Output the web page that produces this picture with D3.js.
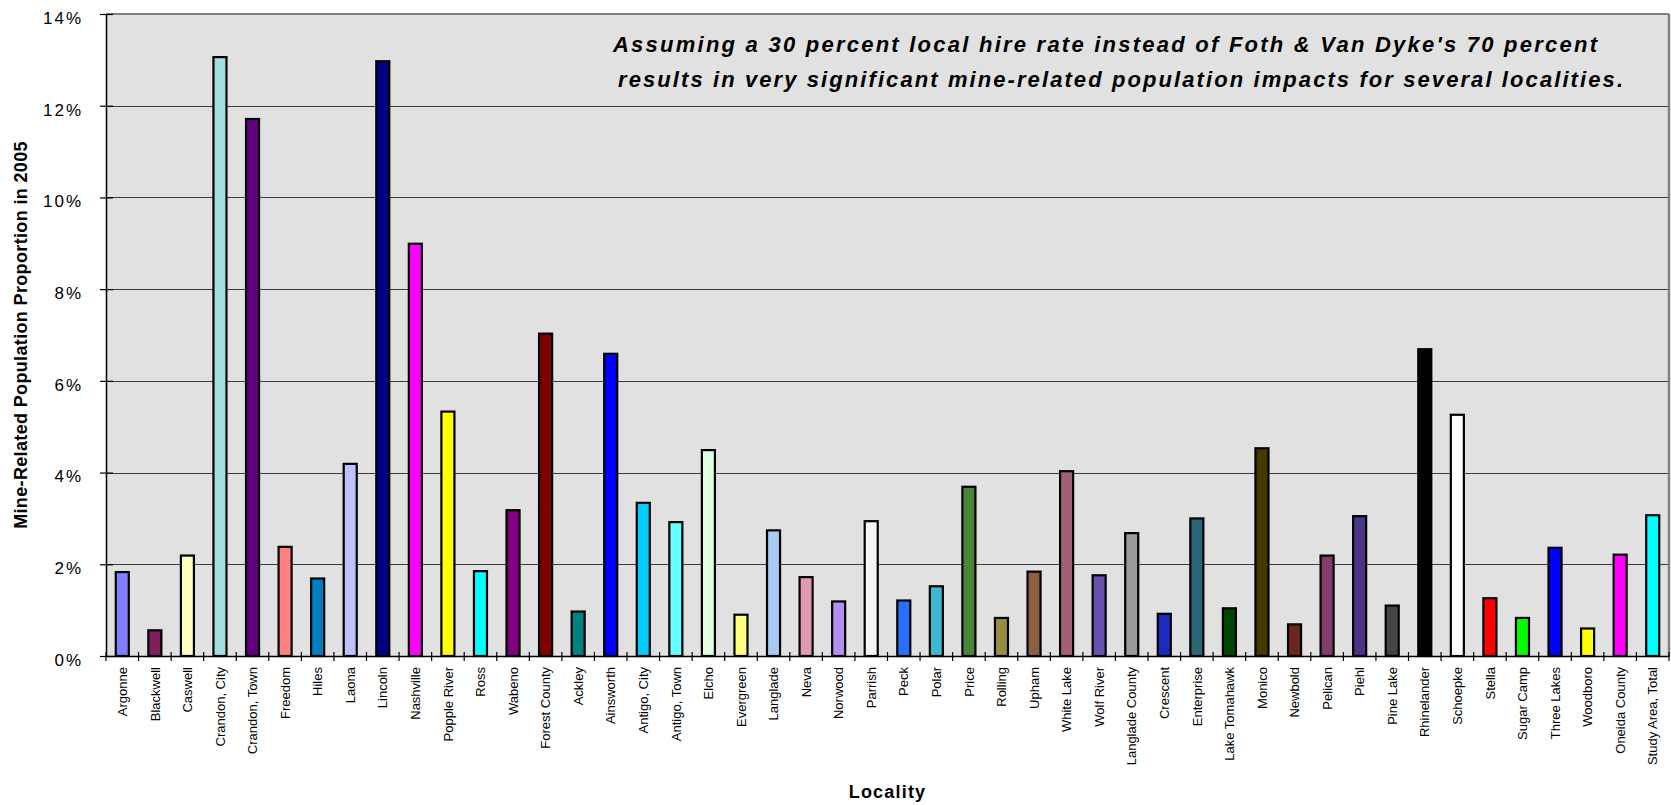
<!DOCTYPE html>
<html>
<head>
<meta charset="utf-8">
<script src="https://cdn.jsdelivr.net/npm/d3@7/dist/d3.min.js"></script>
<style>
  html, body { margin: 0; padding: 0; background: #ffffff; }
  svg { display: block; }
  text { font-family: "Liberation Sans", Arial, Helvetica, sans-serif; }
</style>
</head>
<body>
<svg id="chart" width="1671" height="805"></svg>
<script>
// ---------- data ----------
const categories = [
  "Argonne", "Blackwell", "Caswell", "Crandon, City", "Crandon, Town", "Freedom", "Hiles", "Laona",
  "Lincoln", "Nashville", "Popple River", "Ross", "Wabeno", "Forest County", "Ackley", "Ainsworth",
  "Antigo, City", "Antigo, Town", "Elcho", "Evergreen", "Langlade", "Neva", "Norwood", "Parrish",
  "Peck", "Polar", "Price", "Rolling", "Upham", "White Lake", "Wolf River", "Langlade County",
  "Crescent", "Enterprise", "Lake Tomahawk", "Monico", "Newbold", "Pelican", "Piehl", "Pine Lake",
  "Rhinelander", "Schoepke", "Stella", "Sugar Camp", "Three Lakes", "Woodboro", "Oneida County",
  "Study Area, Total"
];

// Mine-related population proportion in 2005 (percent)
const values = [
  1.83, 0.56, 2.19, 13.06, 11.71, 2.38, 1.69, 4.19,
  12.97, 8.99, 5.33, 1.85, 3.18, 7.03, 0.97, 6.59,
  3.34, 2.92, 4.49, 0.90, 2.74, 1.72, 1.19, 2.94,
  1.21, 1.52, 3.69, 0.83, 1.84, 4.03, 1.76, 2.68,
  0.92, 3.00, 1.04, 4.53, 0.69, 2.19, 3.05, 1.10,
  6.69, 5.26, 1.26, 0.83, 2.36, 0.60, 2.21, 3.07
];

const yTickValues = [0, 2, 4, 6, 8, 10, 12, 14];

const annotationLines = [
  "Assuming a 30 percent local hire rate instead of Foth & Van Dyke's 70 percent",
  "results in very significant mine-related population impacts for several localities."
];

const yAxisTitle = "Mine-Related Population Proportion in 2005";
const xAxisTitle = "Locality";

// ---------- styles ----------
const barColors = [
  "#8080FF", "#7F1F5F", "#FFFFC0", "#A0E0E0", "#600080", "#FF8080", "#0080C0", "#C0C0FF",
  "#000080", "#FF00FF", "#FFFF00", "#00FFFF", "#800080", "#800000", "#008080", "#0000FF",
  "#00CCFF", "#66FFFF", "#E0FFE0", "#FFFF80", "#A6CAF0", "#E09AB4", "#B48EF0", "#F4F4F4",
  "#2A70FF", "#3EB8D0", "#4A8638", "#988C40", "#8E5E40", "#A26078", "#6650B0", "#999999",
  "#1A2CC0", "#2A6678", "#004400", "#433A00", "#6A2818", "#843C6C", "#4A3488", "#444444",
  "#000000", "#FFFFFF", "#FF0000", "#00FF00", "#0000FF", "#FFFF00", "#FF00FF", "#00FFFF"
];

// ---------- layout ----------
const svg = d3.select("#chart");
const plot = { left: 106, right: 1669, top: 14, bottom: 656 };

svg.append("rect").attr("x", 0).attr("y", 0).attr("width", 1671).attr("height", 805).attr("fill", "#ffffff");

const x = d3.scaleBand()
  .domain(categories)
  .range([plot.left, plot.right])
  .paddingInner(0.6)
  .paddingOuter(0.3);

const y = d3.scaleLinear()
  .domain([0, 14])
  .range([plot.bottom, plot.top]);

// plot background
svg.append("rect")
  .attr("x", plot.left).attr("y", plot.top)
  .attr("width", plot.right - plot.left).attr("height", plot.bottom - plot.top)
  .attr("fill", "#E1E1E1");

// gridlines
svg.append("g").selectAll("line")
  .data(yTickValues.filter(v => v > 0 && v < 14))
  .join("line")
  .attr("x1", plot.left).attr("x2", plot.right)
  .attr("y1", d => Math.round(y(d)) + 0.5).attr("y2", d => Math.round(y(d)) + 0.5)
  .attr("stroke", "#3c3c3c").attr("stroke-width", 1);

// top and right border
svg.append("line")
  .attr("x1", plot.left).attr("x2", plot.right)
  .attr("y1", plot.top).attr("y2", plot.top)
  .attr("stroke", "#808080").attr("stroke-width", 2);
svg.append("line")
  .attr("x1", plot.right).attr("x2", plot.right)
  .attr("y1", plot.top).attr("y2", plot.bottom)
  .attr("stroke", "#808080").attr("stroke-width", 2.5);

// bars
svg.append("g").selectAll("rect")
  .data(categories.map((c, i) => ({ c, v: values[i], col: barColors[i] })))
  .join("rect")
  .attr("x", d => x(d.c))
  .attr("y", d => y(d.v))
  .attr("width", x.bandwidth())
  .attr("height", d => y(0) - y(d.v))
  .attr("fill", d => d.col)
  .attr("stroke", "#000000")
  .attr("stroke-width", 2.2);

// y axis
const yAxis = d3.axisLeft(y)
  .tickValues(yTickValues)
  .tickSizeInner(6)
  .tickSizeOuter(0)
  .tickPadding(17)
  .tickFormat(d => d + "%");
const gy = svg.append("g").attr("transform", `translate(${plot.left},0)`).call(yAxis);
gy.select(".domain").attr("stroke", "#000").attr("stroke-width", 1.5);
gy.selectAll(".tick line").attr("x1", -6).attr("x2", 7).attr("stroke", "#000").attr("stroke-width", 1.2);
gy.selectAll(".tick text")
  .attr("font-size", "17px")
  .attr("fill", "#000")
  .attr("letter-spacing", "2px")
  .attr("dy", "0.55em")
  .attr("font-family", "'Liberation Sans', Arial, sans-serif");

// x axis (labels at band centres, ticks at band boundaries)
const xAxis = d3.axisBottom(x).tickSize(0).tickPadding(0);
const gx = svg.append("g").attr("transform", `translate(0,${plot.bottom})`).call(xAxis);
gx.select(".domain").attr("stroke", "#000").attr("stroke-width", 1.5);
gx.selectAll(".tick text")
  .attr("font-size", "13px")
  .attr("fill", "#000")
  .attr("font-family", "'Liberation Sans', Arial, sans-serif")
  .attr("text-anchor", "end")
  .attr("transform", "translate(0,11) rotate(-90)")
  .attr("x", 0).attr("y", 0)
  .attr("dy", "0.36em");

const step = x.step();
const boundaries = categories.map(c => x(c) + x.bandwidth() / 2 - step / 2).concat([plot.right]);
gx.append("g").selectAll("line")
  .data(boundaries)
  .join("line")
  .attr("x1", d => d).attr("x2", d => d)
  .attr("y1", -4).attr("y2", 5)
  .attr("stroke", "#000").attr("stroke-width", 1.2);

// axis titles
svg.append("text")
  .attr("x", (plot.left + plot.right) / 2)
  .attr("y", 798)
  .attr("text-anchor", "middle")
  .attr("font-size", "18px")
  .attr("font-weight", "bold")
  .attr("letter-spacing", "1.2px")
  .attr("fill", "#000")
  .text(xAxisTitle);

svg.append("text")
  .attr("transform", `translate(27,${(plot.top + plot.bottom) / 2}) rotate(-90)`)
  .attr("text-anchor", "middle")
  .attr("font-size", "18px")
  .attr("font-weight", "bold")
  .attr("letter-spacing", "0.35px")
  .attr("fill", "#000")
  .text(yAxisTitle);

// annotation
const annX = [613, 618];
const annY = [51.5, 87];
const annW = [984, 1005];
annotationLines.forEach((t, i) => {
  svg.append("text")
    .attr("x", annX[i])
    .attr("y", annY[i])
    .attr("font-size", "22px")
    .attr("font-weight", "bold")
    .attr("font-style", "italic")
    .attr("fill", "#000")
    .attr("textLength", annW[i])
    .attr("lengthAdjust", "spacing")
    .text(t);
});
</script>
</body>
</html>
